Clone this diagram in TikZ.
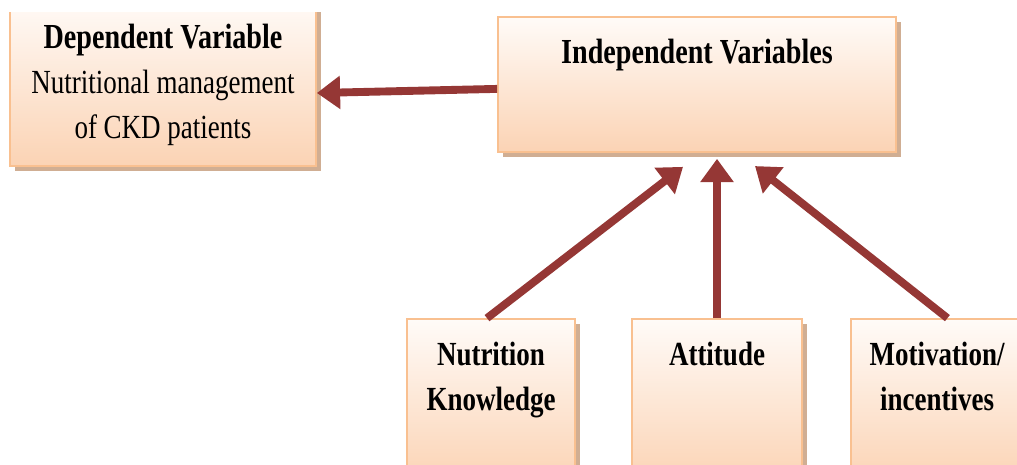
\documentclass[tikz,border=0pt]{standalone}
\usepackage{fontspec}
\setmainfont{Liberation Serif}[FakeStretch=0.8]
\usetikzlibrary{arrows.meta,calc,shadows}
\definecolor{peachtop}{RGB}{255,251,248}
\definecolor{peachbottom}{RGB}{251,211,180}
\definecolor{peachline}{RGB}{249,192,144}
\definecolor{peachshadow}{RGB}{200,160,128}
\definecolor{arrowred}{RGB}{149,55,53}

\begin{document}
\begin{tikzpicture}[x=0.025cm,y=-0.025cm]

\tikzstyle{varbox} = [draw=peachline, line width=1.2pt, inner sep=0,
    top color=peachtop, bottom color=peachbottom,
    drop shadow={shadow xshift=0.12cm, shadow yshift=-0.12cm,
    fill=peachshadow, opacity=0.85}]
\tikzstyle{boxtext} = [anchor=north, inner sep=0, align=center,
    font=\fontsize{24}{32}\selectfont]
\tikzstyle{headtext} = [boxtext, font=\fontsize{24}{32}\selectfont\bfseries]
\tikzstyle{arr} = [draw=arrowred, line width=5.6pt,
    -{Triangle[length=0.58cm,width=0.8cm]}]

\useasboundingbox (0,0) rectangle (1017,465);
\clip (0,0) rectangle (1017,465);

% =========================
% dependent variable (top cut off)
% =========================
\begin{scope}
\clip (0,13) rectangle (400,200);
\node[varbox, minimum width=7.65cm, minimum height=4.2cm] (dep) at (163,82) {};
\end{scope}
\node[boxtext] (depText) at ([yshift=-0.675cm]dep.north)
    {{\fontsize{25}{32}\selectfont\bfseries Dependent Variable}\\
     Nutritional management\\of CKD patients};

% =========================
% independent variables
% =========================
\node[varbox, minimum width=9.95cm, minimum height=3.375cm] (indep) at (697,84.5) {};
\node[headtext, font=\fontsize{25}{32}\selectfont\bfseries] (indepText)
    at ([yshift=-0.575cm]indep.north) {Independent Variables};

% =========================
% three factors - bottom row
% =========================
\node[varbox, minimum width=4.2cm, minimum height=4.1cm] (know) at (491,401) {};
\node[headtext] (knowText) at ([yshift=-0.6cm]know.north) {Nutrition\\Knowledge};

\node[varbox, minimum width=4.25cm, minimum height=4.1cm] (att) at (717,401) {};
\node[headtext] (attText) at ([yshift=-0.6cm]att.north) {Attitude};

\node[varbox, minimum width=4.3cm, minimum height=4.1cm] (motiv) at (937,401) {};
\node[headtext] (motivText) at ([yshift=-0.6cm]motiv.north) {Motivation/\\incentives};

% =========================
% arrows
% =========================
\draw[arr] ([yshift=-0.11cm]indep.west) -- ([yshift=-0.275cm]dep.east);
\draw[arr] ([xshift=-0.1cm]know.north) -- ([xshift=-0.35cm,yshift=-0.35cm]indep.south);
\draw[arr] (att.north) -- ($(att.north |- indep.south)+(0,6)$);
\draw[arr] ([xshift=0.26cm]motiv.north) -- ([xshift=1.45cm,yshift=-0.33cm]indep.south);

\end{tikzpicture}
\end{document}
